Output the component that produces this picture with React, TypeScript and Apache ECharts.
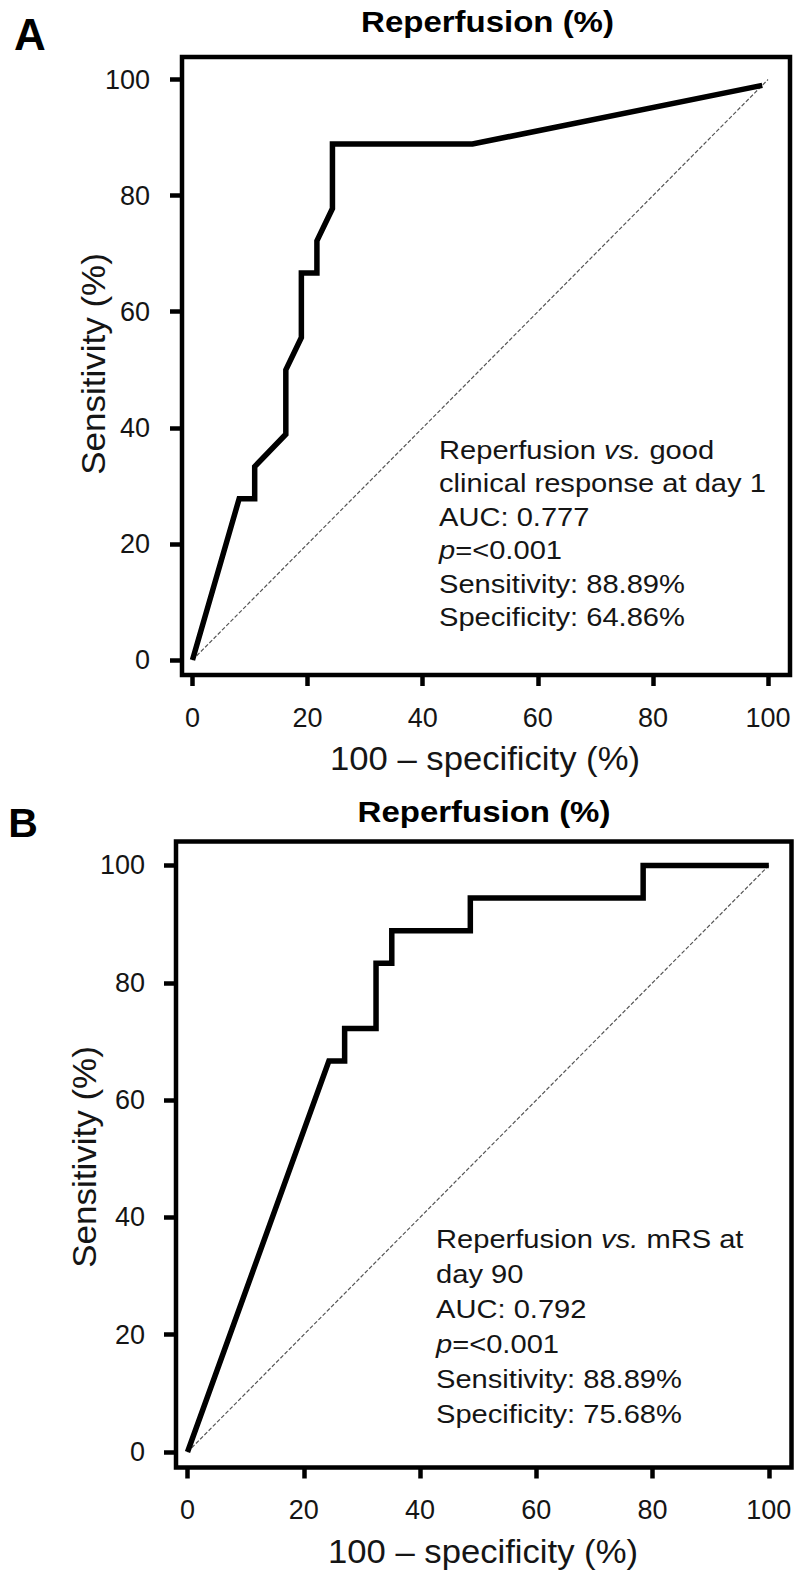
import React, { useEffect, useRef } from "react";
import * as echarts from "echarts";

// ---- data ----
const tickValues = [0, 20, 40, 60, 80, 100];

// Panel A: Reperfusion vs. good clinical response at day 1
const fprA = [0, 8.11, 10.81, 10.81, 16.22, 16.22, 18.92, 18.92, 21.62, 21.62, 24.32, 24.32, 48.65, 99];
const tprA = [0, 27.78, 27.78, 33.33, 38.89, 50.0, 55.56, 66.67, 66.67, 72.22, 77.78, 88.89, 88.89, 99];

// Panel B: Reperfusion vs. mRS at day 90
const fprB = [0, 24.32, 27.03, 27.03, 32.43, 32.43, 35.14, 35.14, 48.65, 48.65, 78.38, 78.38, 100];
const tprB = [0, 66.67, 66.67, 72.22, 72.22, 83.33, 83.33, 88.89, 88.89, 94.44, 94.44, 100, 100];

// Reference (chance) line
const chanceX = [0, 100];
const chanceY = [0, 100];

const panelLabels = ["A", "B"];
const chartTitle = "Reperfusion (%)";
const xTitle = "100 \u2013 specificity (%)";
const yTitle = "Sensitivity (%)";

const notesA = [
  "Reperfusion {i|vs.} good",
  "clinical response at day 1",
  "AUC: 0.777",
  "{i|p}=<0.001",
  "Sensitivity: 88.89%",
  "Specificity: 64.86%",
];
const notesB = [
  "Reperfusion {i|vs.} mRS at",
  "day 90",
  "AUC: 0.792",
  "{i|p}=<0.001",
  "Sensitivity: 88.89%",
  "Specificity: 75.68%",
];

// ---- layout / style ----
const W = 799;
const H = 1576;
const FONT = "'Liberation Sans', Arial, Helvetica, sans-serif";
const TXT = "#151515";

const panels = [
  {
    grid: { left: 182, top: 57, width: 608, height: 618 },
    xr: [-1.82, 103.82],
    yr: [-2.58, 103.88],
    fpr: fprA,
    tpr: tprA,
    notes: notesA,
    notesX: 439,
    notesBase: 459,
    notesStep: 33.5,
    label: { x: 30, y: 34, size: 44 },
    title: { x: 487.5, y: 22 },
    xt: { x: 485, y: 758.6 },
    yt: { x: 93, y: 364 },
    yLabelMargin: 32,
  },
  {
    grid: { left: 176, top: 841.5, width: 615.5, height: 626 },
    xr: [-1.98, 103.9],
    yr: [-2.64, 104.09],
    fpr: fprB,
    tpr: tprB,
    notes: notesB,
    notesX: 436,
    notesBase: 1248.3,
    notesStep: 35,
    label: { x: 23, y: 822.5, size: 41 },
    title: { x: 484, y: 811.3 },
    xt: { x: 483, y: 1551.6 },
    yt: { x: 84, y: 1157 },
    yLabelMargin: 31,
  },
];

function buildOption() {
  const grids: any[] = [];
  const xAxes: any[] = [];
  const yAxes: any[] = [];
  const series: any[] = [];
  const graphics: any[] = [];

  panels.forEach((p, i) => {
    grids.push({
      ...p.grid,
      show: true,
      borderColor: "#000",
      borderWidth: 4.5,
      backgroundColor: "transparent",
      containLabel: false,
    });
    xAxes.push({
      type: "value",
      gridIndex: i,
      position: "bottom",
      min: p.xr[0],
      max: p.xr[1],
      axisLine: { show: false, onZero: false },
      splitLine: { show: false },
      axisTick: {
        show: true,
        inside: false,
        length: 11,
        customValues: tickValues,
        lineStyle: { color: "#000", width: 4.5 },
      },
      axisLabel: {
        show: true,
        customValues: tickValues,
        margin: 29,
        fontSize: 27,
        fontFamily: FONT,
        color: TXT,
      },
    });
    yAxes.push({
      type: "value",
      gridIndex: i,
      position: "left",
      min: p.yr[0],
      max: p.yr[1],
      axisLine: { show: false, onZero: false },
      splitLine: { show: false },
      axisTick: {
        show: true,
        inside: false,
        length: 12,
        customValues: tickValues,
        lineStyle: { color: "#000", width: 4.5 },
      },
      axisLabel: {
        show: true,
        customValues: tickValues,
        margin: p.yLabelMargin,
        fontSize: 27,
        fontFamily: FONT,
        color: TXT,
      },
    });
    series.push({
      type: "line",
      xAxisIndex: i,
      yAxisIndex: i,
      data: chanceX.map((x, k) => [x, chanceY[k]]),
      symbol: "none",
      silent: true,
      z: 2,
      lineStyle: { color: "#555", width: 1.2, type: [4, 2] },
    });
    series.push({
      type: "line",
      xAxisIndex: i,
      yAxisIndex: i,
      data: p.fpr.map((x, k) => [x, p.tpr[k]]),
      symbol: "none",
      silent: true,
      z: 3,
      lineStyle: { color: "#000", width: 5.5, join: "miter", cap: "butt", miterLimit: 10 },
    });

    // panel label
    graphics.push({
      type: "text",
      x: p.label.x,
      y: p.label.y,
      style: {
        text: panelLabels[i],
        font: `bold ${p.label.size}px ${FONT}`,
        fill: "#000",
        align: "center",
        verticalAlign: "middle",
      },
    });
    // title
    graphics.push({
      type: "text",
      x: p.title.x,
      y: p.title.y,
      scaleX: 1.1,
      style: {
        text: chartTitle,
        font: `bold 30px ${FONT}`,
        fill: "#000",
        align: "center",
        verticalAlign: "middle",
      },
    });
    // x axis title
    graphics.push({
      type: "text",
      x: p.xt.x,
      y: p.xt.y,
      scaleX: 1.05,
      style: {
        text: xTitle,
        font: `33px ${FONT}`,
        fill: TXT,
        align: "center",
        verticalAlign: "middle",
      },
    });
    // y axis title
    graphics.push({
      type: "text",
      x: p.yt.x,
      y: p.yt.y,
      rotation: Math.PI / 2,
      scaleX: 1.06,
      style: {
        text: yTitle,
        font: `33px ${FONT}`,
        fill: TXT,
        align: "center",
        verticalAlign: "middle",
      },
    });
    // annotation lines
    p.notes.forEach((line, k) => {
      graphics.push({
        type: "text",
        x: p.notesX,
        y: p.notesBase + k * p.notesStep - 9.0,
        scaleX: 1.12,
        style: {
          text: line,
          font: `26px ${FONT}`,
          fill: TXT,
          align: "left",
          verticalAlign: "middle",
          rich: {
            i: { fontStyle: "italic", fontSize: 26, fontFamily: FONT, fill: TXT },
          },
        },
      });
    });
  });

  return {
    animation: false,
    backgroundColor: "#fff",
    grid: grids,
    xAxis: xAxes,
    yAxis: yAxes,
    series,
    graphic: graphics,
  };
}

export default function App() {
  const ref = useRef<HTMLDivElement>(null);
  useEffect(() => {
    if (!ref.current) return;
    const chart = echarts.init(ref.current, null, { renderer: "svg", width: W, height: H });
    chart.setOption(buildOption() as any);
    return () => chart.dispose();
  }, []);
  return (
    <div
      ref={ref}
      style={{ position: "absolute", left: 0, top: 0, width: W, height: H, background: "#fff" }}
    />
  );
}
